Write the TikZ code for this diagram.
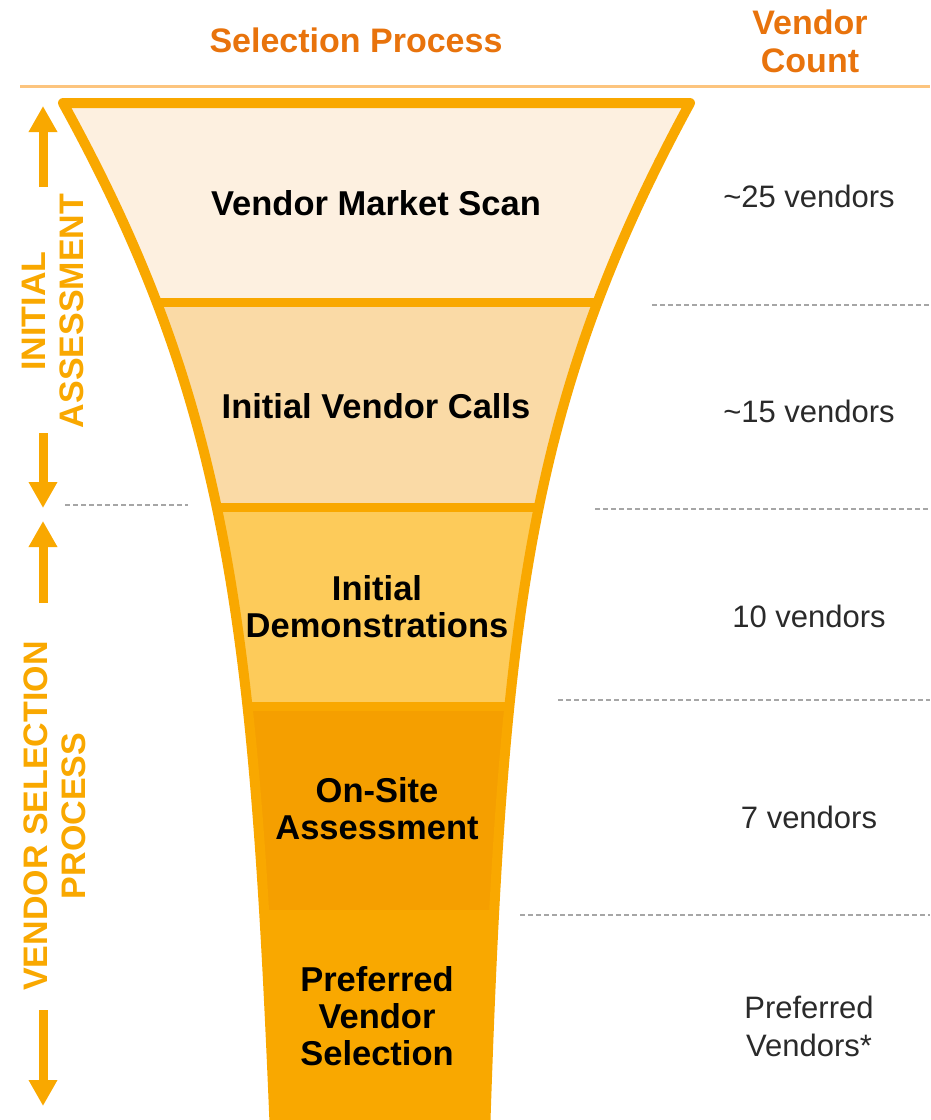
\documentclass[tikz,border=0pt]{standalone}
\usepackage{fontspec}
\setmainfont{Liberation Sans}
\usetikzlibrary{arrows.meta}

\definecolor{hdrorange}{HTML}{E8730C}
\definecolor{funorange}{HTML}{F9A800}
\definecolor{rulecol}{HTML}{FCC47E}
\definecolor{bandA}{HTML}{FDF0E0}
\definecolor{bandB}{HTML}{FADAA6}
\definecolor{bandC}{HTML}{FDCB5A}
\definecolor{bandD}{HTML}{F59F00}
\definecolor{bandE}{HTML}{F9A800}
\definecolor{countcol}{HTML}{2A2A2A}
\definecolor{sepgray}{HTML}{A6A6A6}

\begin{document}
\begin{tikzpicture}[x=1pt,y=-1pt,
  hdr/.style={text=hdrorange, font=\fontsize{34}{38}\selectfont\bfseries, align=center, inner sep=0pt},
  stage/.style={text=black, font=\fontsize{34.5}{37}\selectfont\bfseries, align=center, inner sep=0pt},
  count/.style={text=countcol, font=\fontsize{31}{38}\selectfont, align=center, inner sep=0pt},
  side/.style={text=funorange, font=\fontsize{34}{38}\selectfont\bfseries, align=center, inner sep=0pt, rotate=90},
  rim/.style={draw=funorange, line width=10pt, line join=round, line cap=round},
  divider/.style={draw=funorange, line width=9pt},
  sep/.style={draw=sepgray, line width=1.4pt, dash pattern=on 5pt off 3pt},
  span/.style={draw=funorange, line width=9pt, -{Triangle[width=27pt,length=26pt]}},
]
\useasboundingbox (0,0) rectangle (930,1120);

% header
\node[hdr] (hproc) at (356,40) {Selection Process};
\node[hdr] (hcount) at (810,41) {Vendor\\Count};
\draw[rulecol, line width=3pt] (20,86) -- (930,86);

% funnel bands, clipped to the funnel outline
\begin{scope}
  \clip (275,1135) .. controls (254,620) and (228,403) .. (63,103)
        -- (690,103) .. controls (527,403) and (502,620) .. (485,1135) -- cycle;
  \fill[bandA] (0,95) rectangle (930,302);
  \fill[bandB] (0,302) rectangle (930,507);
  \fill[bandC] (0,507) rectangle (930,706);
  \fill[bandD] (0,706) rectangle (930,910);
  \fill[bandE] (0,910) rectangle (930,1135);
  \draw[divider] (0,302) -- (930,302);
  \draw[divider] (0,507) -- (930,507);
  \draw[divider] (0,706) -- (930,706);
\end{scope}
\draw[rim] (275,1135) .. controls (254,620) and (228,403) .. (63,103)
      -- (690,103) .. controls (527,403) and (502,620) .. (485,1135);

% stage labels
\node[stage] (s1) at (376,203) {Vendor Market Scan};
\node[stage] (s2) at (376,406) {Initial Vendor Calls};
\node[stage] (s3) at (377,607) {Initial\\Demonstrations};
\node[stage] (s4) at (377,809) {On-Site\\Assessment};
\node[stage] (s5) at (377,1016) {Preferred\\Vendor\\Selection};

% vendor counts
\node[count] (c1) at (809,196) {\textasciitilde25 vendors};
\node[count] (c2) at (809,411) {\textasciitilde15 vendors};
\node[count] (c3) at (809,616) {10 vendors};
\node[count] (c4) at (809,817) {7 vendors};
\node[count] (c5) at (809,1026) {Preferred\\Vendors*};

% separators between count rows
\coordinate (r1a) at (652,305); \coordinate (r1b) at (930,305);
\coordinate (r2a) at (595,509); \coordinate (r2b) at (930,509);
\coordinate (r3a) at (558,700); \coordinate (r3b) at (930,700);
\coordinate (r4a) at (520,915); \coordinate (r4b) at (930,915);
\coordinate (l1a) at (65,505);  \coordinate (l1b) at (188,505);
\draw[sep] (r1a) -- (r1b);
\draw[sep] (r2a) -- (r2b);
\draw[sep] (r3a) -- (r3b);
\draw[sep] (r4a) -- (r4b);
\draw[sep] (l1a) -- (l1b);

% phase labels with their span arrows
\node[side] (ia) at (53,311) {INITIAL\\ASSESSMENT};
\node[side] (vs) at (55,816) {VENDOR SELECTION\\PROCESS};
\coordinate (ia1) at (43,187);  \coordinate (ia1t) at (43,106);
\coordinate (ia2) at (43,433);  \coordinate (ia2t) at (43,508);
\coordinate (vs1) at (43,603);  \coordinate (vs1t) at (43,521);
\coordinate (vs2) at (43,1010); \coordinate (vs2t) at (43,1106);
\draw[span] (ia1) -- (ia1t);
\draw[span] (ia2) -- (ia2t);
\draw[span] (vs1) -- (vs1t);
\draw[span] (vs2) -- (vs2t);
\end{tikzpicture}
\end{document}
